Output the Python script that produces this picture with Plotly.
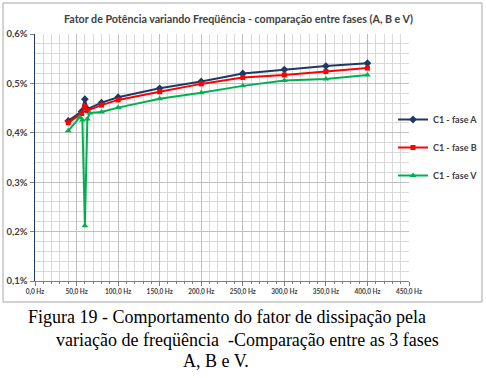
import plotly.graph_objects as go

# ---- data ----
freq_a = [40, 56, 60, 63, 80, 100, 150, 200, 250, 300, 350, 400]
fase_a = [0.424, 0.443, 0.468, 0.448, 0.461, 0.472, 0.490, 0.504, 0.520, 0.528, 0.535, 0.541]
freq_b = [40, 56, 60, 63, 80, 100, 150, 200, 250, 300, 350, 400]
fase_b = [0.4205, 0.439, 0.453, 0.445, 0.456, 0.4666, 0.483, 0.499, 0.512, 0.517, 0.524, 0.531]
freq_v = [40, 54, 57, 60, 63, 66, 80, 100, 150, 200, 250, 300, 350, 400]
fase_v = [0.404, 0.432, 0.426, 0.212, 0.428, 0.440, 0.442, 0.451, 0.469, 0.481, 0.495, 0.506, 0.509, 0.517]

x_tick_vals = [0, 50, 100, 150, 200, 250, 300, 350, 400, 450]
x_tick_text = ["0,0 Hz", "50,0 Hz", "100,0 Hz", "150,0 Hz", "200,0 Hz", "250,0 Hz",
               "300,0 Hz", "350,0 Hz", "400,0 Hz", "450,0 Hz"]
y_tick_vals = [0.1, 0.2, 0.3, 0.4, 0.5, 0.6]
y_tick_text = ["0,1%", "0,2%", "0,3%", "0,4%", "0,5%", "0,6%"]

title = "Fator de Potência variando Freqüência - comparação entre fases (A, B e V)"
caption = ["Figura 19 - Comportamento do fator de dissipação pela",
           "variação de freqüência  -Comparação entre as 3 fases",
           "A, B e V."]

# ---- figure ----
W, H = 486, 378
L, R, T, B = 35, 409, 34, 281

fig = go.Figure()
fig.add_trace(go.Scatter(x=freq_a, y=fase_a, mode="lines+markers", name="C1 - fase A",
                         legendgroup="a",
                         line=dict(color="#1F3864", width=2),
                         marker=dict(symbol="diamond", size=6, color="#1F3864")))
fig.add_trace(go.Scatter(x=freq_b, y=fase_b, mode="lines+markers", name="C1 - fase B",
                         legendgroup="b",
                         line=dict(color="#FF0000", width=2),
                         marker=dict(symbol="square", size=5, color="#FF0000")))
fig.add_trace(go.Scatter(x=freq_v, y=fase_v, mode="lines+markers", name="C1 - fase V",
                         legendgroup="v",
                         line=dict(color="#00B050", width=2),
                         marker=dict(symbol="triangle-up", size=6, color="#00B050")))

def px(xp):
    return (xp - L) / (R - L)

def py(yp):
    return (B - yp) / (B - T)

fig.update_layout(
    width=W, height=H,
    margin=dict(l=L, r=W - R, t=T, b=H - B, pad=0, autoexpand=False),
    paper_bgcolor="white", plot_bgcolor="white",
    font=dict(family="Lato, sans-serif", color="#404040"),
    showlegend=True,
    legend=dict(x=px(393), y=py(105), xanchor="left", yanchor="top",
                font=dict(size=9, family="Lato", color="#404040", weight="bold"),
                tracegroupgap=9, itemwidth=30, bgcolor="rgba(0,0,0,0)"),
    xaxis=dict(range=[0, 450], tickvals=x_tick_vals, ticktext=x_tick_text,
               tickfont=dict(size=6.5, family="Lato", color="#404040", weight="bold"),
               showgrid=True, gridcolor="#bfbfbf", gridwidth=1,
               minor=dict(dtick=10, showgrid=True, gridcolor="#d9d9d9", gridwidth=1,
                          ticks="outside", ticklen=2, tickcolor="#7f7f7f"),
               showline=True, linecolor="#7f7f7f", linewidth=1,
               ticks="outside", ticklen=4, tickcolor="#7f7f7f",
               zeroline=False, fixedrange=True, automargin=False),
    yaxis=dict(range=[0.1, 0.6], tickvals=y_tick_vals, ticktext=y_tick_text,
               tickfont=dict(size=9.5, family="Lato", color="#404040", weight="bold"),
               showgrid=True, gridcolor="#bfbfbf", gridwidth=1,
               minor=dict(dtick=0.02, showgrid=True, gridcolor="#d9d9d9", gridwidth=1),
               showline=True, linecolor="#1F3864", linewidth=1.5,
               ticks="outside", ticklen=4, tickcolor="#7f7f7f",
               zeroline=False, fixedrange=True, automargin=False),
)

# chart border
fig.add_shape(type="rect", xref="paper", yref="paper",
              x0=px(3), x1=px(482), y0=py(302), y1=py(3),
              line=dict(color="#a6a6a6", width=1), fillcolor="rgba(0,0,0,0)", layer="below")

# title
fig.add_annotation(text=title, xref="paper", yref="paper", x=px(239), y=py(18),
                   xanchor="center", yanchor="middle", showarrow=False,
                   font=dict(size=10.7, family="Lato", color="#404040", weight="bold"))

# caption lines
cap_pos = [(227, 317), (248, 340), (216, 361)]
for line, (cx, cy) in zip(caption, cap_pos):
    fig.add_annotation(text=line, xref="paper", yref="paper", x=px(cx), y=py(cy),
                       xanchor="center", yanchor="middle", showarrow=False,
                       font=dict(size=18, family="Liberation Serif", color="#000000"))

fig.write_html("out.html",
               config={"displayModeBar": False, "staticPlot": True},
               post_script="document.body.style.margin='0';document.body.style.padding='0';")
